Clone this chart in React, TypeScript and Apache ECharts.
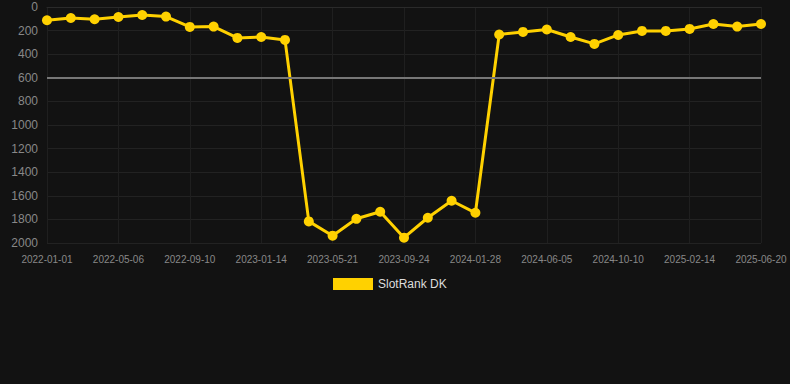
import React, { useEffect, useRef } from "react";
import * as echarts from "echarts";

const categories: string[] = [
  "2022-01-01", "2022-02-12", "2022-03-25", "2022-05-06", "2022-06-17", "2022-07-29",
  "2022-09-10", "2022-10-22", "2022-12-03", "2023-01-14", "2023-02-25", "2023-04-08",
  "2023-05-21", "2023-07-02", "2023-08-13", "2023-09-24", "2023-11-05", "2023-12-17",
  "2024-01-28", "2024-03-10", "2024-04-23", "2024-06-05", "2024-07-17", "2024-08-29",
  "2024-10-10", "2024-11-21", "2025-01-02", "2025-02-14", "2025-03-28", "2025-05-09",
  "2025-06-20",
];

const slotRankDK: number[] = [
  112, 93, 104, 85, 68, 81, 169, 166, 262, 254, 279,
  1817, 1938, 1795, 1735, 1955, 1786, 1642, 1744,
  233, 211, 191, 254, 313, 237, 203, 203, 186, 144, 166, 144,
];

const thresholdLine = 600;
const seriesName = "SlotRank DK";

export default function App() {
  const ref = useRef<HTMLDivElement>(null);
  useEffect(() => {
    if (!ref.current) return;
    document.body.style.margin = "0";
    const chart = echarts.init(ref.current, null, { renderer: "svg" });
    chart.setOption({
      animation: false,
      backgroundColor: "#121212",
      grid: { left: 47, right: 29, top: 7, bottom: 141 },
      legend: {
        top: 273,
        left: 328,
        icon: "rect",
        itemWidth: 40,
        itemHeight: 12,
        itemGap: 10,
        textStyle: { color: "#dddddd", fontSize: 12, fontFamily: "Arial, Liberation Sans, sans-serif" },
        data: [seriesName],
      },
      xAxis: {
        type: "category",
        data: categories,
        boundaryGap: false,
        axisLine: { show: true, lineStyle: { color: "#2a2a2a" } },
        axisTick: { show: false },
        axisLabel: {
          interval: 2,
          color: "#888888",
          fontSize: 10,
          margin: 11,
          fontFamily: "Arial, Liberation Sans, sans-serif",
        },
        splitLine: { show: true, interval: 2, lineStyle: { color: "#1f1f1f" } },
      },
      yAxis: {
        type: "value",
        inverse: true,
        min: 0,
        max: 2000,
        interval: 200,
        axisLine: { show: false },
        axisTick: { show: false },
        axisLabel: {
          color: "#888888",
          fontSize: 12,
          margin: 9,
          formatter: (v: number) => String(v),
          fontFamily: "Arial, Liberation Sans, sans-serif",
        },
        splitLine: { show: true, lineStyle: { color: "#222222" } },
      },
      series: [
        {
          name: seriesName,
          type: "line",
          data: slotRankDK,
          color: "#FFD100",
          symbol: "circle",
          symbolSize: 10,
          lineStyle: { width: 3, color: "#FFD100" },
          itemStyle: { color: "#FFD100" },
          markLine: {
            silent: true,
            symbol: ["none", "none"],
            label: { show: false },
            lineStyle: { color: "#777777", width: 2, type: "solid" },
            data: [{ yAxis: thresholdLine }],
          },
        },
      ],
    });
    return () => chart.dispose();
  }, []);
  return <div ref={ref} style={{ width: 790, height: 384 }} />;
}
